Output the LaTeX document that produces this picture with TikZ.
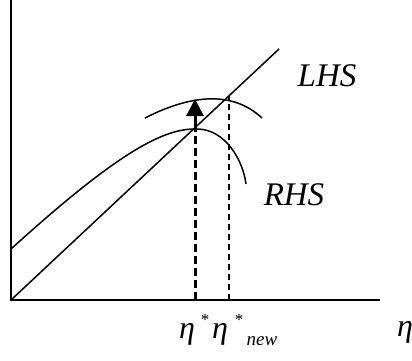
\documentclass[tikz,border=0pt]{standalone}
\usepackage{fontspec}
\setmainfont{Liberation Serif}
\usetikzlibrary{arrows.meta}
\tikzset{
  axis/.style={line width=1.8pt},
  curve/.style={line width=1.5pt},
  dashA/.style={line width=3pt, dash pattern=on 8pt off 4pt},
  dashB/.style={line width=2.3pt, dash pattern=on 6pt off 4pt},
  lbl/.style={inner sep=0pt, font=\fontsize{33}{36}\selectfont\itshape},
  etalbl/.style={inner sep=0pt, anchor=base, font=\fontsize{32}{36}\selectfont\itshape},
  starlbl/.style={inner sep=0pt, anchor=base, font=\fontsize{17}{19}\selectfont},
  sublbl/.style={inner sep=0pt, anchor=base, font=\fontsize{19}{21}\selectfont\itshape},
}
\begin{document}
\begin{tikzpicture}[x=1pt,y=-1pt]
\useasboundingbox (0,0) rectangle (412,360);
% axes
\coordinate (O) at (11,300);
\coordinate (ytop) at (11,0);
\coordinate (xend) at (380,300);
\draw[axis] (ytop) -- (O) -- (xend);
% LHS line
\coordinate (lhsend) at (279,49);
\draw[curve] (O) -- (lhsend);
% RHS curve (original)
\coordinate (r0) at (11,249);
\coordinate (rpk) at (197,129);
\coordinate (r1) at (246,184);
\draw[curve] (r0) .. controls (120,150) and (165,128) .. (rpk)
             .. controls (225,129) and (243,160) .. (r1);
% new RHS curve
\coordinate (n0) at (145,118);
\coordinate (n1) at (262,118);
\draw[curve] (n0) .. controls (190,95) and (232,90) .. (n1);
% dashed lines
\coordinate (d1b) at (195,300);
\coordinate (d1t) at (195,129);
\coordinate (a1) at (195,99);
\coordinate (d2b) at (229,300);
\coordinate (d2t) at (229,96);
\draw[dashA] (d1b) -- (d1t);
\draw[line width=3pt, -{Triangle[length=17pt,width=17pt]}] (d1t) -- (a1);
\draw[dashB] (d2b) -- (d2t);
% labels
\node[lbl] (lhs) at (327,76) {LHS};
\node[lbl] (rhs) at (294,195) {RHS};
\node[etalbl] (e1) at (187,338) {η};
\node[starlbl] (s1) at (205,325) {*};
\node[etalbl] (e2) at (220,338) {η};
\node[starlbl] (s2) at (239,325) {*};
\node[sublbl] (nw) at (262,345) {new};
\node[etalbl] (ex) at (405,336) {η};
\end{tikzpicture}
\end{document}
